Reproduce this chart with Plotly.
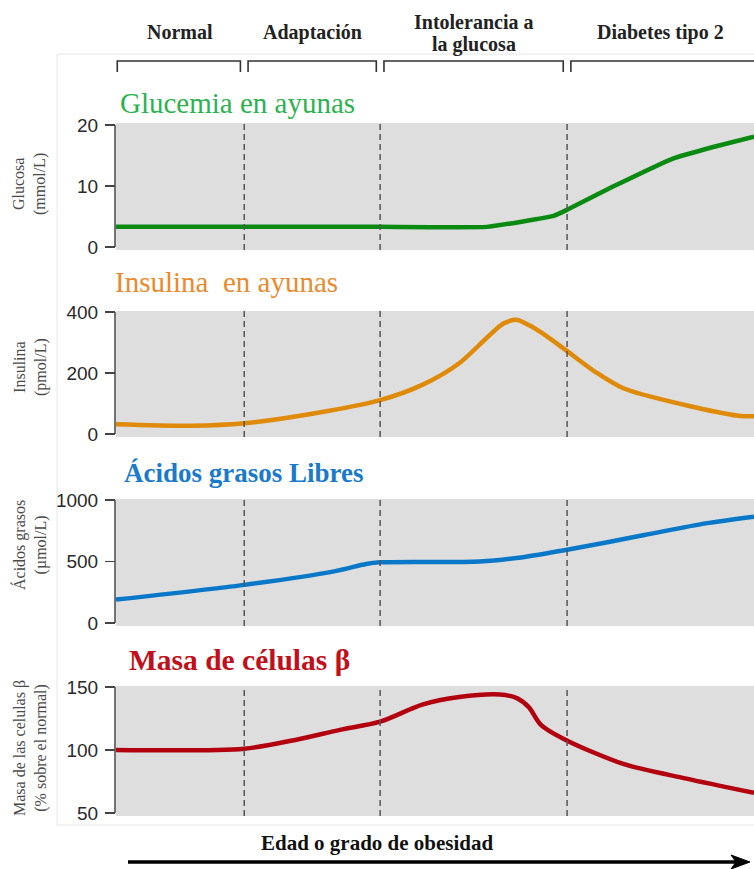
import plotly.graph_objects as go

W, H = 754, 869

# ---------------- data ----------------
stage_labels = ["Normal", "Adaptación", "Intolerancia a<br>la glucosa", "Diabetes tipo 2"]
stage_bounds = [0, 20.1, 41.4, 70.7, 100]

gluc_x = [0, 20, 41.4, 58.1, 68.6, 70.7, 77.9, 87.3, 93.6, 100]
gluc_y = [3.3, 3.3, 3.3, 3.3, 5.1, 6.1, 9.9, 14.5, 16.4, 18.1]

ins_x = [0, 11.9, 20.1, 31.2, 41.4, 48.0, 53.8, 58.3, 60.8, 62.9, 64.7, 67.2, 70.5, 75.1, 79.5, 89.2, 97.5, 100]
ins_y = [32, 27, 35, 68, 111, 161, 232, 319, 363, 374, 357, 325, 275, 204, 150, 95, 60, 58]

ffa_x = [0, 20.1, 34.2, 39.2, 41.4, 57.0, 63.5, 70.5, 82.8, 92.4, 100]
ffa_y = [190, 310, 420, 480, 493, 500, 533, 593, 715, 810, 865]

beta_x = [0, 20.1, 28.1, 35.1, 41.4, 48.0, 53.8, 60.2, 62.9, 64.7, 66.6, 70.5, 79.5, 89.2, 100]
beta_y = [100, 101, 108, 116, 122.5, 136, 142, 144, 141, 134, 120, 108, 89, 77.5, 66]

panel_titles = ["Glucemia en ayunas", "Insulina\u00a0 en ayunas", "<b>Ácidos grasos Libres</b>", "<b>Masa de células β</b>"]
axis_titles = ["Glucosa<br>(mmol/L)", "Insulina<br>(pmol/L)", "Ácidos grasos<br>(µmol/L)",
               "Masa de las celulas β<br>(% sobre el normal)"]
tick_vals = [[0, 10, 20], [0, 200, 400], [0, 500, 1000], [50, 100, 150]]
x_label = "Edad o grado de obesidad"

# ---------------- styling / layout ----------------
series = [(gluc_x, gluc_y), (ins_x, ins_y), (ffa_x, ffa_y), (beta_x, beta_y)]
smooth = [0.35, 0.8, 0.8, 0.8]
line_colors = ["#0b8a12", "#e08a0a", "#0a78c8", "#b3000f"]
title_colors = ["#2db24f", "#e98a2e", "#1a7acb", "#c0101a"]
title_y = [103, 282, 473, 660]
title_x = [118, 113, 122, 127]
title_sizes = [29, 29, 27, 29.5]
ytitle_y = [184, 367, 545, 748]
# pixel positions: (px of lowest tick, px of highest tick, gray top px, gray bottom px)
geom = [(247, 125, 123, 250), (434, 312, 311, 437), (623, 500, 499, 626), (813, 687, 686, 816)]
SERIF = "Liberation Serif, Times New Roman, serif"

X0 = 116

def fx(p):
    return p / W

def fy(p):
    return 1 - p / H

fig = go.Figure()
layout = dict(
    width=W, height=H, margin=dict(l=0, r=0, t=0, b=0, pad=0, autoexpand=False),
    paper_bgcolor="white", plot_bgcolor="#dedede", showlegend=False,
)
shapes = []
annotations = []

for i, ((xs, ys), (p_lo, p_hi, g_top, g_bot)) in enumerate(zip(series, geom)):
    n = "" if i == 0 else str(i + 1)
    t_lo, t_hi = tick_vals[i][0], tick_vals[i][-1]
    upp = (t_hi - t_lo) / (p_lo - p_hi)  # units per pixel
    r_lo = t_lo - (g_bot - p_lo) * upp
    r_hi = t_hi + (p_hi - g_top) * upp
    fig.add_trace(go.Scatter(
        x=xs, y=ys, mode="lines", xaxis="x" + n, yaxis="y" + n,
        line=dict(color=line_colors[i], width=4.5, shape="spline", smoothing=smooth[i]),
        hoverinfo="skip",
    ))
    layout["xaxis" + n] = dict(domain=[fx(X0), 1], range=[0, 100], visible=False,
                               anchor="y" + n, fixedrange=True)
    layout["yaxis" + n] = dict(
        domain=[fy(g_bot), fy(g_top)], range=[r_lo, r_hi], anchor="x" + n, fixedrange=True,
        tickvals=tick_vals[i], ticks="outside", ticklen=10, tickwidth=1.5, tickcolor="#444",
        ticklabelstandoff=3,
        showline=False, showgrid=False, zeroline=False,
        tickfont=dict(family="Liberation Sans, Arial, sans-serif", size=19, color="#2a2a2a"),
    )
    # axis bracket line
    shapes.append(dict(type="line", xref="paper", yref="y" + n, x0=fx(X0 - 1), x1=fx(X0 - 1),
                       y0=t_lo, y1=t_hi, line=dict(color="#444", width=1.5)))
    # stage dashed lines
    for b in stage_bounds[1:-1]:
        shapes.append(dict(type="line", xref="x" + n, yref="y" + n + " domain", x0=b, x1=b,
                           y0=0, y1=1, line=dict(color="#555", width=1.5, dash="6px,4px")))
    # panel title
    annotations.append(dict(text=panel_titles[i], xref="paper", yref="paper",
                            x=fx(title_x[i]), y=fy(title_y[i]), xanchor="left", yanchor="middle",
                            showarrow=False,
                            font=dict(family=SERIF, size=title_sizes[i], color=title_colors[i])))
    # y axis title
    annotations.append(dict(text=axis_titles[i], xref="paper", yref="paper",
                            x=fx(30), y=fy(ytitle_y[i]), xanchor="center", yanchor="middle",
                            textangle=-90, showarrow=False,
                            font=dict(family=SERIF, size=16, color="#4a4a4a")))

# header stage labels + brackets
for j, lab in enumerate(stage_labels):
    a, b = stage_bounds[j], stage_bounds[j + 1]
    lines = lab.split("<br>")
    ys_px = [32] if len(lines) == 1 else [22, 44]
    for line_txt, ypx in zip(lines, ys_px):
        annotations.append(dict(text="<b>" + line_txt + "</b>", xref="x", yref="paper",
                                x=(a + b) / 2, y=fy(ypx), xanchor="center", yanchor="middle",
                                showarrow=False,
                                font=dict(family=SERIF, size=20, color="#222")))
    left = a + 0.2 if j == 0 else a + 0.6
    right = b - 0.6 if j < len(stage_labels) - 1 else b + 2
    shapes.append(dict(type="path", xref="x", yref="paper",
                       path=f"M {left},{fy(72)} L {left},{fy(61)} L {right},{fy(61)} L {right},{fy(72)}",
                       line=dict(color="#333", width=1.6)))

# faint frame
shapes.append(dict(type="rect", xref="paper", yref="paper", x0=fx(57), x1=fx(760),
                   y0=fy(825), y1=fy(54), line=dict(color="#e6e6e6", width=1), layer="below"))

# x label and arrow
annotations.append(dict(text="<b>" + x_label + "</b>", xref="paper", yref="paper",
                        x=fx(377), y=fy(843), xanchor="center", yanchor="middle", showarrow=False,
                        font=dict(family=SERIF, size=21, color="#111")))
shapes.append(dict(type="line", xref="paper", yref="paper", x0=fx(128), x1=fx(738),
                   y0=fy(862), y1=fy(862), line=dict(color="#000", width=3.5)))
shapes.append(dict(type="path", xref="paper", yref="paper",
                   path=f"M {fx(731)},{fy(855)} L {fx(750)},{fy(862)} L {fx(731)},{fy(869)} L {fx(736)},{fy(862)} Z",
                   fillcolor="#000", line=dict(color="#000", width=1)))

layout["shapes"] = shapes
layout["annotations"] = annotations
fig.update_layout(**layout)

page_fix = (
    "document.documentElement.style.margin='0';document.body.style.margin='0';"
    "document.body.style.padding='0';"
    "document.documentElement.style.overflow='hidden';document.body.style.overflow='hidden';"
    "var gd=document.querySelector('.plotly-graph-div');"
    "gd.style.position='absolute';gd.style.left='0px';gd.style.top='0px';"
)
fig.write_html("out.html", config={"displayModeBar": False, "staticPlot": True},
               post_script=page_fix)
